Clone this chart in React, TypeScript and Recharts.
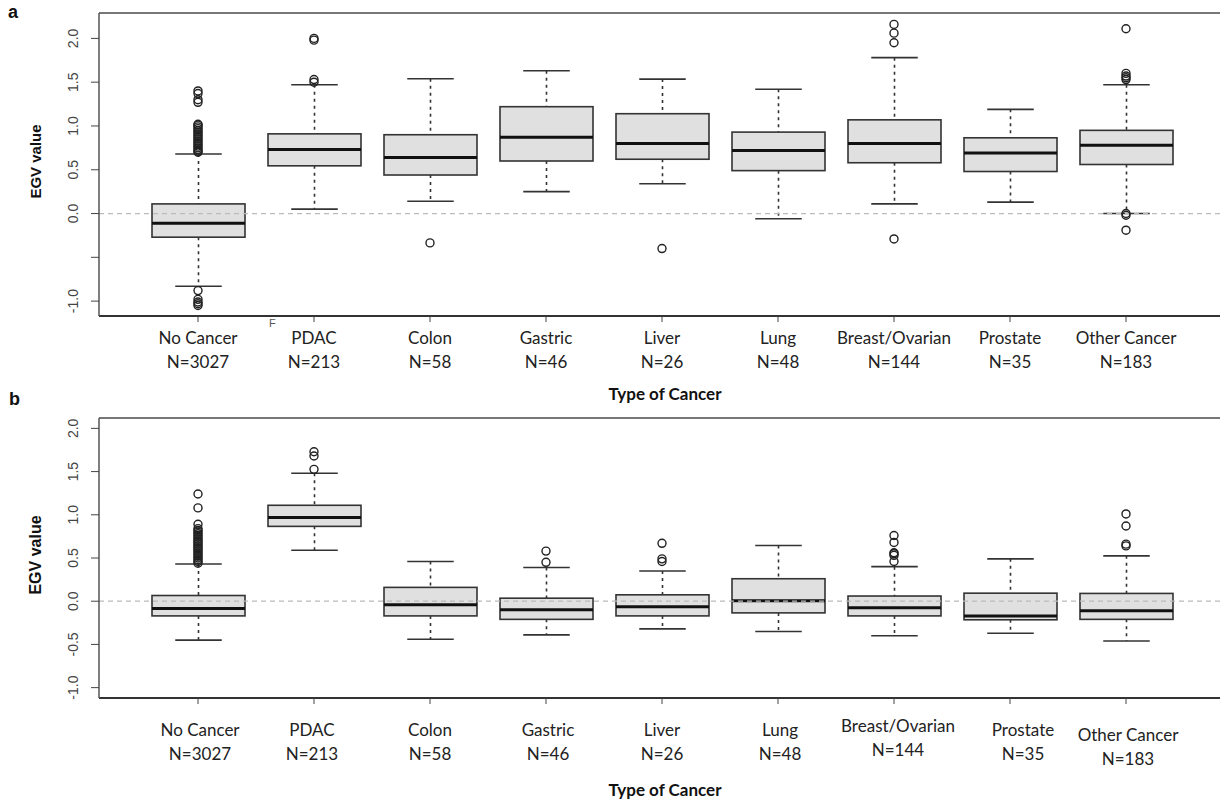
import React from "react";
import { ComposedChart, Bar, Scatter, XAxis, YAxis, ReferenceLine } from "recharts";

// categories and tick labels
const categories = ["No Cancer", "PDAC", "Colon", "Gastric", "Liver", "Lung", "Breast/Ovarian", "Prostate", "Other Cancer"];
const counts = ["N=3027", "N=213", "N=58", "N=46", "N=26", "N=48", "N=144", "N=35", "N=183"];
const yTicks = [-1, -0.5, 0, 0.5, 1, 1.5, 2];
const yTickLabelsA = ["-1.0", "", "0.0", "0.5", "1.0", "1.5", "2.0"];
const yTickLabelsB = ["-1.0", "-0.5", "0.0", "0.5", "1.0", "1.5", "2.0"];

// panel a: box stats
const lowA = [-0.83, 0.05, 0.14, 0.25, 0.34, -0.06, 0.11, 0.13, 0.0];
const q1A = [-0.27, 0.545, 0.44, 0.6, 0.62, 0.49, 0.58, 0.48, 0.56];
const medA = [-0.11, 0.73, 0.64, 0.87, 0.8, 0.72, 0.8, 0.69, 0.78];
const q3A = [0.11, 0.91, 0.9, 1.22, 1.14, 0.93, 1.07, 0.865, 0.95];
const highA = [0.68, 1.47, 1.54, 1.63, 1.535, 1.42, 1.78, 1.19, 1.47];
const outliersA = [
  [0.7, 0.71, 0.73, 0.75, 0.77, 0.79, 0.81, 0.83, 0.85, 0.87, 0.89, 0.91, 0.93, 0.95, 0.97, 0.99, 1.01, 1.02, 1.27, 1.3, 1.37, 1.4, -0.88, -0.98, -1.01, -1.03, -1.05],
  [1.5, 1.53, 1.98, 2.0],
  [-0.335],
  [],
  [-0.4],
  [],
  [1.95, 2.06, 2.16, -0.29],
  [],
  [1.53, 1.55, 1.57, 1.6, 2.11, 0.0, -0.02, -0.19],
];

// panel b: box stats
const lowB = [-0.45, 0.59, -0.44, -0.39, -0.32, -0.35, -0.4, -0.37, -0.46];
const q1B = [-0.17, 0.866, -0.17, -0.21, -0.17, -0.135, -0.17, -0.215, -0.21];
const medB = [-0.085, 0.97, -0.04, -0.1, -0.065, 0.005, -0.077, -0.17, -0.11];
const q3B = [0.066, 1.11, 0.16, 0.035, 0.074, 0.26, 0.06, 0.093, 0.09];
const highB = [0.43, 1.48, 0.46, 0.39, 0.35, 0.645, 0.4, 0.49, 0.525];
const outliersB = [
  [0.44, 0.46, 0.48, 0.5, 0.52, 0.54, 0.56, 0.58, 0.6, 0.62, 0.64, 0.66, 0.68, 0.7, 0.72, 0.74, 0.76, 0.78, 0.8, 0.82, 0.84, 0.89, 1.08, 1.24],
  [1.526, 1.68, 1.73],
  [],
  [0.45, 0.58],
  [0.46, 0.49, 0.67],
  [],
  [0.46, 0.53, 0.55, 0.56, 0.68, 0.76],
  [],
  [0.64, 0.66, 0.87, 1.01],
];

const LABEL_FONT = "Lato, 'Open Sans', sans-serif";
const AXIS_FONT = "'Liberation Sans', Arial, sans-serif";

function buildRows(lo: number[], q1: number[], med: number[], q3: number[], hi: number[]) {
  return categories.map((name, i) => ({ name, lo: lo[i], q1: q1[i], med: med[i], q3: q3[i], hi: hi[i] }));
}

function buildPoints(outliers: number[][]) {
  return outliers.flatMap((vals, i) => vals.map((value) => ({ name: categories[i], value })));
}

// box + whiskers; positions interpolated from the bar's [lo, hi] pixel span
function BoxShape(props: any) {
  const { x, y, width, height, payload } = props;
  if (!payload || !isFinite(y)) return null;
  const yHi = Math.min(y, y + height);
  const yLo = Math.max(y, y + height);
  const py = (v: number) => yHi + ((payload.hi - v) / (payload.hi - payload.lo)) * (yLo - yHi);
  const cx = x + width / 2;
  const cap = width / 4;
  const top = py(payload.q3);
  const bot = py(payload.q1);
  const med = py(payload.med);
  return (
    <g>
      <line x1={cx} x2={cx} y1={yHi} y2={top} stroke="#333" strokeWidth={1.6} strokeDasharray="3 4" />
      <line x1={cx} x2={cx} y1={bot} y2={yLo} stroke="#333" strokeWidth={1.6} strokeDasharray="3 4" />
      <line x1={cx - cap} x2={cx + cap} y1={yHi} y2={yHi} stroke="#333" strokeWidth={1.6} />
      <line x1={cx - cap} x2={cx + cap} y1={yLo} y2={yLo} stroke="#333" strokeWidth={1.6} />
      <rect x={x} y={top} width={width} height={bot - top} fill="#e0e0e0" stroke="#333" strokeWidth={1.6} />
      <line x1={x} x2={x + width} y1={med} y2={med} stroke="#111" strokeWidth={3} />
    </g>
  );
}

const Outlier = (p: any) => <circle cx={p.cx} cy={p.cy} r={4} fill="none" stroke="#222" strokeWidth={1.4} />;

type PanelProps = {
  top: number;
  height: number;
  plotTop: number;
  axisHeight: number;
  domain: [number, number];
  rows: any[];
  points: any[];
  yLabels: string[];
  labelDy: number;
  titleDy: number;
  yTitleSize: number;
  labelShift: { dx: number; dy: number }[];
};

function Panel(p: PanelProps) {
  const XTick = (t: any) => {
    const i = categories.indexOf(t.payload.value);
    const s = p.labelShift[i] || { dx: 0, dy: 0 };
    const lx = t.x + s.dx;
    return (
      <text x={lx} y={t.y + s.dy} textAnchor="middle" fontFamily={LABEL_FONT} fontSize={17} fill="#222">
        <tspan x={lx} dy={p.labelDy}>{t.payload.value}</tspan>
        <tspan x={lx} dy={24}>{counts[i]}</tspan>
      </text>
    );
  };
  const YTick = (t: any) => {
    const i = yTicks.indexOf(t.payload.value);
    const lx = 78;
    return (
      <text x={lx} y={t.y} transform={`rotate(-90 ${lx} ${t.y})`} textAnchor="middle" fontFamily={AXIS_FONT} fontSize={14} fill="#444">
        {p.yLabels[i]}
      </text>
    );
  };
  return (
    <div style={{ position: "absolute", left: 0, top: p.top }}>
      <ComposedChart width={1220} height={p.height} data={p.rows} margin={{ top: p.plotTop, right: 0, left: 0, bottom: 0 }}>
        <XAxis
          dataKey="name"
          type="category"
          allowDuplicatedCategory={false}
          height={p.axisHeight}
          padding={{ left: 41, right: 36 }}
          interval={0}
          tick={XTick}
          tickSize={6}
          tickLine={{ stroke: "#444" }}
          axisLine={{ stroke: "#333", strokeWidth: 2 }}
          label={{
            content: (l: any) => (
              <text x={665} y={l.viewBox.y + p.titleDy} textAnchor="middle" fontFamily={LABEL_FONT} fontWeight="bold" fontSize={17} fill="#111">
                Type of Cancer
              </text>
            ),
          }}
        />
        <YAxis
          type="number"
          domain={p.domain}
          ticks={yTicks}
          interval={0}
          allowDataOverflow
          width={99}
          tick={YTick}
          tickSize={8}
          tickLine={{ stroke: "#444" }}
          axisLine={{ stroke: "#555", strokeWidth: 1.5 }}
          label={{
            content: (l: any) => {
              const cy = l.viewBox.y + l.viewBox.height / 2 - 3;
              return (
                <text x={41} y={cy} transform={`rotate(-90 41 ${cy})`} textAnchor="middle" fontFamily={AXIS_FONT} fontWeight="bold" fontSize={p.yTitleSize} fill="#111">
                  EGV value
                </text>
              );
            },
          }}
        />
        <Bar dataKey={(d: any) => [d.lo, d.hi]} barSize={93} shape={BoxShape} isAnimationActive={false} />
        <Scatter data={p.points} dataKey="value" shape={Outlier} isAnimationActive={false} />
        <ReferenceLine y={0} stroke="#bbb" strokeWidth={1.2} strokeDasharray="5 4" />
        <ReferenceLine y={p.domain[1]} stroke="#777" strokeWidth={2} />
      </ComposedChart>
    </div>
  );
}

const noShift = categories.map(() => ({ dx: 0, dy: 0 }));
const shiftB = [
  { dx: 2, dy: 0 }, { dx: -2, dy: 0 }, { dx: 0, dy: 0 }, { dx: 2, dy: 0 }, { dx: 0, dy: 0 },
  { dx: 2, dy: 0 }, { dx: 4, dy: -4 }, { dx: 13, dy: 0 }, { dx: 2, dy: 5 },
];

export default function App() {
  return (
    <div style={{ position: "absolute", left: 0, top: 0, width: 1220, height: 803, background: "#fff", overflow: "hidden" }}>
      <Panel
        top={0}
        height={412}
        plotTop={13}
        axisHeight={96}
        domain={[-1.17, 2.29]}
        rows={buildRows(lowA, q1A, medA, q3A, highA)}
        points={buildPoints(outliersA)}
        yLabels={yTickLabelsA}
        labelDy={20}
        titleDy={84}
        yTitleSize={15}
        labelShift={noShift}
      />
      <Panel
        top={400}
        height={403}
        plotTop={18}
        axisHeight={105}
        domain={[-1.12, 2.12]}
        rows={buildRows(lowB, q1B, medB, q3B, highB)}
        points={buildPoints(outliersB)}
        yLabels={yTickLabelsB}
        labelDy={30}
        titleDy={98}
        yTitleSize={16}
        labelShift={shiftB}
      />
      <div style={{ position: "absolute", left: 8, top: 2, fontFamily: AXIS_FONT, fontWeight: "bold", fontSize: 18, color: "#111" }}>a</div>
      <div style={{ position: "absolute", left: 9, top: 389, fontFamily: AXIS_FONT, fontWeight: "bold", fontSize: 18, color: "#111" }}>b</div>
      <div style={{ position: "absolute", left: 269, top: 317, fontFamily: AXIS_FONT, fontSize: 11, color: "#555" }}>F</div>
    </div>
  );
}
